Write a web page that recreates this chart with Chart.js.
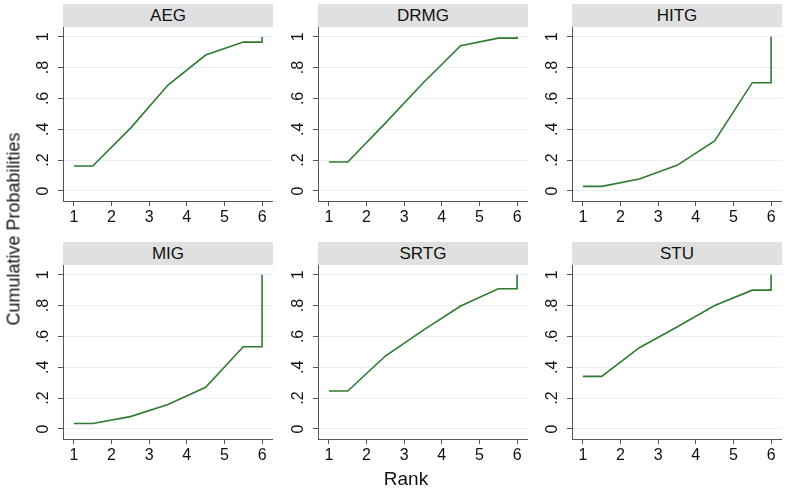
<!DOCTYPE html>
<html>
<head>
<meta charset="utf-8">
<title>Cumulative ranking</title>
<script src="https://cdn.jsdelivr.net/npm/chart.js@4.4.1/dist/chart.umd.min.js"></script>
<style>
  body { margin: 0; background: #fff; font-family: "Liberation Sans", Arial, sans-serif; }
  #wrap { position: relative; width: 785px; height: 489px; overflow: hidden; }
  .strip { position: absolute; height: 23px; background: #e0e0e0; color: #111;
           font-size: 17px; line-height: 24px; text-align: center; }
  .panel { position: absolute; }
  .axtitle { position: absolute; font-size: 18px; color: #111; white-space: nowrap; }
</style>
</head>
<body>
<div id="wrap"></div>
<script>
"use strict";

// cumulative ranking curves, one panel per group

var groups = ["AEG", "DRMG", "HITG", "MIG", "SRTG", "STU"];
var rankX  = [1, 1.5, 2.5, 3.5, 4.5, 5.5, 6, 6];

var aeg  = [0.162, 0.162, 0.406, 0.687, 0.881, 0.965, 0.965, 1];
var drmg = [0.188, 0.188, 0.440, 0.700, 0.942, 0.991, 0.991, 1];
var hitg = [0.030, 0.030, 0.078, 0.166, 0.324, 0.702, 0.702, 1];
var mig  = [0.035, 0.035, 0.080, 0.158, 0.270, 0.533, 0.533, 1];
var srtg = [0.246, 0.246, 0.473, 0.639, 0.797, 0.909, 0.909, 1];
var stu  = [0.341, 0.341, 0.527, 0.661, 0.800, 0.900, 0.900, 1];

var series = [aeg, drmg, hitg, mig, srtg, stu];

var xTicks = [1, 2, 3, 4, 5, 6];
var yTicks = [0, 0.2, 0.4, 0.6, 0.8, 1];

// panel geometry (plot area)
var colLeft = [63, 318, 572];
var rowTop  = [27, 265];
var plotW = 210, plotH = 174;
var yAxisW = 40, xAxisH = 32, stripH = 23;

var axisColor = "#555";
var lineColor = "#2f7a30";
var tickFont = "16px 'Liberation Sans', Arial, sans-serif";

var wrap = document.getElementById("wrap");

function fmtY(v) {
	if (v === 0 || v === 1) return String(v);
	return String(Math.round(v * 10) / 10).replace(/^0/, "");
}

// y labels are written vertically (bottom to top), as in the original
var verticalYLabels = {
	id: "verticalYLabels",
	afterDraw: function(chart) {
		var y = chart.scales.y, ctx = chart.ctx;
		var cx = chart.chartArea.left - 20;
		ctx.save();
		ctx.font = tickFont;
		ctx.fillStyle = "#111";
		ctx.textAlign = "center";
		ctx.textBaseline = "middle";
		yTicks.forEach(function(v) {
			ctx.save();
			ctx.translate(cx, y.getPixelForValue(v));
			ctx.rotate(-Math.PI / 2);
			ctx.fillText(fmtY(v), 0, 1);
			ctx.restore();
		});
		ctx.restore();
	}
};

groups.forEach(function(name, i) {
	var left = colLeft[i % 3], top = rowTop[Math.floor(i / 3)];

	var strip = document.createElement("div");
	strip.className = "strip";
	strip.style.left = left + "px";
	strip.style.top = (top - stripH) + "px";
	strip.style.width = plotW + "px";
	strip.textContent = name;
	wrap.appendChild(strip);

	var box = document.createElement("div");
	box.className = "panel";
	box.style.left = (left - yAxisW) + "px";
	box.style.top = top + "px";
	box.style.width = (plotW + yAxisW) + "px";
	box.style.height = (plotH + xAxisH) + "px";
	var cv = document.createElement("canvas");
	box.appendChild(cv);
	wrap.appendChild(box);

	var vals = series[i];
	new Chart(cv.getContext("2d"), {
		type: "scatter",
		data: {
			datasets: [{
				data: rankX.map(function(x, k) { return { x: x, y: vals[k] }; }),
				showLine: true,
				borderColor: lineColor,
				borderWidth: 1.6,
				pointRadius: 0,
				tension: 0,
				fill: false
			}]
		},
		options: {
			responsive: true,
			maintainAspectRatio: false,
			animation: false,
			layout: { padding: 0 },
			plugins: { legend: { display: false }, tooltip: { enabled: false } },
			scales: {
				x: {
					type: "linear",
					min: 0.71,
					max: 6.29,
					afterBuildTicks: function(s) { s.ticks = xTicks.map(function(v) { return { value: v }; }); },
					afterFit: function(s) { s.height = xAxisH; s.paddingLeft = 0; s.paddingRight = 0; },
					grid: { drawOnChartArea: false, tickLength: 5, tickColor: axisColor },
					border: { color: axisColor, width: 1 },
					ticks: { font: { size: 16, family: "'Liberation Sans', Arial" }, color: "#111",
						padding: 2, maxRotation: 0, autoSkip: false }
				},
				y: {
					type: "linear",
					min: -0.065,
					max: 1.063,
					afterBuildTicks: function(s) { s.ticks = yTicks.map(function(v) { return { value: v }; }); },
					afterFit: function(s) { s.width = yAxisW; s.paddingTop = 0; s.paddingBottom = 0; },
					grid: { color: "#eaf0f0", lineWidth: 1, tickLength: 5, tickColor: axisColor },
					border: { color: axisColor, width: 1 },
					ticks: { display: false }
				}
			}
		},
		plugins: [verticalYLabels]
	});
});

// shared axis titles
var yt = document.createElement("div");
yt.className = "axtitle";
yt.textContent = "Cumulative Probabilities";
yt.style.left = "14px";
yt.style.top = "229px";
yt.style.transform = "translate(-50%, -50%) rotate(-90deg)";
wrap.appendChild(yt);

var xt = document.createElement("div");
xt.className = "axtitle";
xt.textContent = "Rank";
xt.style.fontSize = "19px";
xt.style.left = "406px";
xt.style.top = "479px";
xt.style.transform = "translate(-50%, -50%)";
wrap.appendChild(xt);
</script>
</body>
</html>
